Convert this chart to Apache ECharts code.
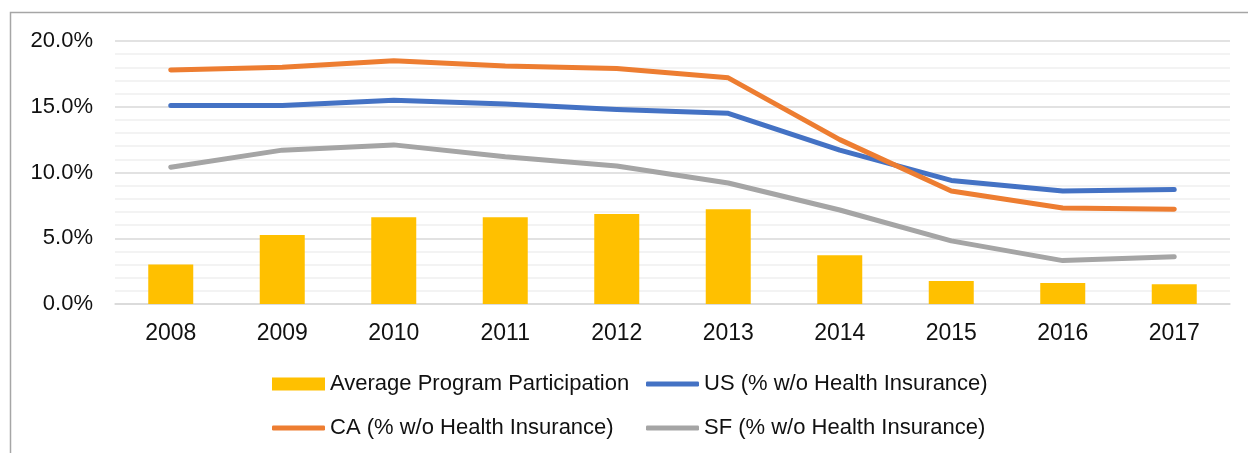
<!DOCTYPE html>
<html>
<head>
<meta charset="utf-8">
<script src="https://cdn.jsdelivr.net/npm/echarts@6/dist/echarts.min.js"></script>
<style>
  html, body { margin: 0; padding: 0; background: #fff; }
  #chart { width: 1248px; height: 453px; }
</style>
</head>
<body>
<div id="chart"></div>
<script>
// data
var years = ['2008', '2009', '2010', '2011', '2012', '2013', '2014', '2015', '2016', '2017']
var participation = [3.0, 5.25, 6.6, 6.6, 6.85, 7.2, 3.7, 1.75, 1.6, 1.5]
var usUninsured = [15.1, 15.1, 15.5, 15.2, 14.8, 14.5, 11.7, 9.4, 8.6, 8.7]
var caUninsured = [17.8, 18.0, 18.5, 18.1, 17.9, 17.2, 12.5, 8.6, 7.3, 7.2]
var sfUninsured = [10.4, 11.7, 12.1, 11.2, 10.5, 9.2, 7.15, 4.8, 3.3, 3.6]

var names = [
  'Average Program Participation',
  'US (% w/o Health Insurance)',
  'CA (% w/o Health Insurance)',
  'SF (% w/o Health Insurance)'
]

var font = 'Liberation Sans, Arial, sans-serif'

var chart = echarts.init(document.getElementById('chart'))

// one legend per item so the two columns line up like the original
function legendAt(name, left, top, isLine) {
  return {
    data: [{ name: name, icon: isLine ? 'roundRect' : 'rect' }],
    left: left,
    top: top,
    itemWidth: 53,
    itemHeight: isLine ? 5 : 13,
    itemGap: 0,
    padding: 0,
    selectedMode: false,
    textStyle: { fontFamily: font, fontSize: 22, color: '#111' }
  }
}

function lineSeries(name, data, color) {
  return {
    name: name,
    type: 'line',
    data: data,
    symbol: 'none',
    lineStyle: { width: 5, color: color, cap: 'round', join: 'round' },
    itemStyle: { color: color },
    z: 3
  }
}

chart.setOption({
  animation: false,
  graphic: [{
    type: 'rect',
    shape: { x: 10.5, y: 12.5, width: 1400, height: 600 },
    style: { fill: 'none', stroke: '#a6a6a6', lineWidth: 1.5 },
    silent: true
  }],
  grid: {
    left: 115,
    right: 18,
    top: 41,
    bottom: 149
  },
  legend: [
    legendAt(names[0], 272, 373, false),
    legendAt(names[1], 646, 373, true),
    legendAt(names[2], 272, 417, true),
    legendAt(names[3], 646, 417, true)
  ],
  xAxis: {
    type: 'category',
    data: years,
    axisLine: { lineStyle: { color: '#d9d9d9', width: 1.5 } },
    axisTick: { show: false },
    axisLabel: { fontFamily: font, fontSize: 23, color: '#111', margin: 18 }
  },
  yAxis: {
    type: 'value',
    min: 0,
    max: 20,
    interval: 5,
    axisLine: { show: false },
    axisTick: { show: false },
    axisLabel: {
      fontFamily: font,
      fontSize: 22,
      color: '#111',
      margin: 22,
      formatter: function (v) { return v.toFixed(1) + '%' }
    },
    splitLine: { lineStyle: { color: '#d9d9d9', width: 1.5 } },
    minorTick: { show: false, splitNumber: 5 },
    minorSplitLine: { show: true, lineStyle: { color: '#f0f0f0', width: 1.5 } }
  },
  series: [
    {
      name: names[0],
      type: 'bar',
      data: participation,
      barWidth: 45,
      itemStyle: { color: '#ffc000' },
      z: 2
    },
    lineSeries(names[1], usUninsured, '#4472c4'),
    lineSeries(names[2], caUninsured, '#ed7d31'),
    lineSeries(names[3], sfUninsured, '#a5a5a5')
  ]
})
</script>
</body>
</html>
